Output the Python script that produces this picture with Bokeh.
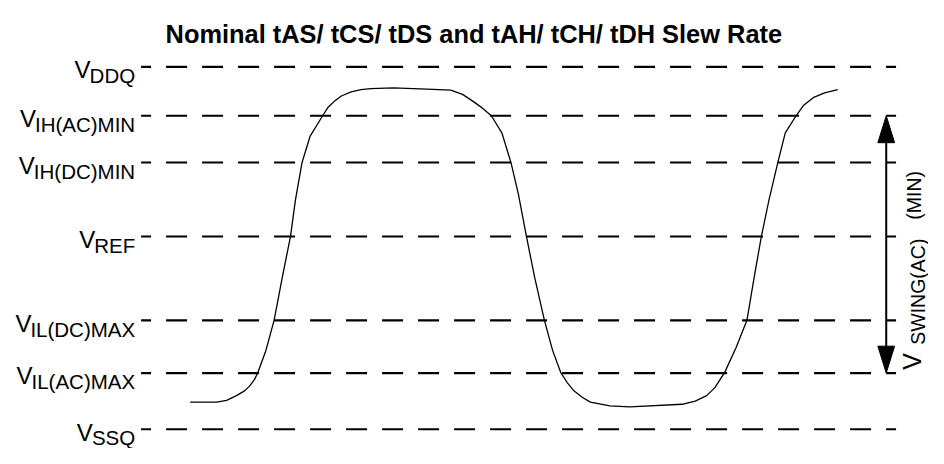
import math
from bokeh.plotting import figure
from bokeh.models import Range1d, ColumnDataSource
from bokeh.core.properties import value
from bokeh.embed import file_html
from bokeh.resources import INLINE

# ---------------- data ----------------
TITLE = "Nominal tAS/ tCS/ tDS and tAH/ tCH/ tDH Slew Rate"

level_main = ["V", "V", "V", "V", "V", "V", "V"]
level_subs = ["DDQ", "IH(AC)MIN", "IH(DC)MIN", "REF", "IL(DC)MAX", "IL(AC)MAX", "SSQ"]
# normalised level voltages (VSSQ = 0, VDDQ = 1)
level_vals = [1.0, 0.865, 0.736, 0.532, 0.3005, 0.155, 0.0]

swing_main = "V"
swing_sub = "SWING(AC)"
swing_tail = "(MIN)"

# waveform: time (arbitrary units) and normalised voltage
wave_t = [193, 220, 230, 240, 248.3, 253.3, 258.3, 261.7, 270, 278.3,
          286.7, 295, 300, 306.7, 315, 327.7, 333.3, 340, 346.7, 356.7,
          366.7, 376.7, 400, 440, 458, 470, 480, 490, 499.3, 510,
          519.3, 526.7, 535, 543.3, 553.3, 561.7, 570, 576.7, 583.3, 591.7,
          600, 620, 640, 693.3, 706.7, 718.3, 726.7, 736.7, 748.3, 759.3,
          766.7, 774, 781.7, 790.7, 798.3, 809.3, 816.7, 826.7, 838.3, 851.7]
wave_v = [0.075, 0.075, 0.0796, 0.093, 0.106, 0.119, 0.137, 0.156, 0.2175, 0.3005,
          0.42, 0.532, 0.632, 0.7355, 0.809, 0.865, 0.8886, 0.906, 0.9196, 0.931,
          0.9371, 0.940, 0.942, 0.938, 0.9355, 0.9239, 0.906, 0.8867, 0.865, 0.818,
          0.7355, 0.65, 0.532, 0.42, 0.3005, 0.217, 0.156, 0.1281, 0.106, 0.0883,
          0.075, 0.0645, 0.062, 0.069, 0.0777, 0.0928, 0.1149, 0.157, 0.2255, 0.3005,
          0.42, 0.532, 0.632, 0.7355, 0.818, 0.865, 0.8931, 0.915, 0.9284, 0.937]

# ---------------- layout helpers ----------------
W, H = 928, 448
REF_W = 944.0
ROW_TOP, ROW_BOTTOM = 4.0, 470.0   # design rows shown at top/bottom of canvas
PX_PER_V = 377.0                   # design pixels per unit voltage
VSSQ_ROW = 450.0                   # design row of VSSQ

def px(n):
    return n / PX_PER_V

def row_to_v(row):
    return (VSSQ_ROW - row) / PX_PER_V

# Arial / Liberation Sans advance widths (per 1000 em)
AW = {"A": 667, "C": 722, "D": 722, "E": 667, "F": 611, "G": 778, "H": 722,
      "I": 278, "L": 556, "M": 833, "N": 722, "Q": 778, "R": 722, "S": 667,
      "W": 944, "X": 667, "(": 333, ")": 333, " ": 278}

def text_w(s, size):
    return sum(AW.get(c, 600) for c in s) * size / 1000.0

FONT = "Liberation Sans"
MAIN_SIZE = 24
SUB_SIZE = 20.5

p = figure(width=W, height=H, output_backend="svg", toolbar_location=None,
           x_range=Range1d(0, REF_W),
           y_range=Range1d(row_to_v(ROW_BOTTOM), row_to_v(ROW_TOP)),
           x_axis_location=None, y_axis_location=None, min_border=0,
           tools="")
p.grid.visible = False
p.outline_line_color = None
p.background_fill_color = "white"
p.border_fill_color = "white"

# dashed reference levels
LX0, LX1 = 143, 911
p.segment(x0=[LX0] * len(level_vals), y0=level_vals,
          x1=[LX1] * len(level_vals), y1=level_vals,
          line_color="black", line_width=2.1, line_dash="21 15",
          line_dash_offset=11)

# level labels
LAB_R = 137
sub_w = [text_w(s, SUB_SIZE) for s in level_subs]
src_sub = ColumnDataSource(dict(x=[LAB_R] * len(level_vals),
                                y=[v - px(9) for v in level_vals],
                                text=level_subs))
p.text(x="x", y="y", text="text", source=src_sub, text_align="right",
       text_baseline="alphabetic", text_font=value(FONT),
       text_font_size=f"{SUB_SIZE}px", text_color="black")
src_main = ColumnDataSource(dict(x=[LAB_R] * len(level_vals),
                                 y=[v - px(3) for v in level_vals],
                                 text=level_main,
                                 xo=[-w + 1 for w in sub_w]))
p.text(x="x", y="y", text="text", x_offset="xo", source=src_main,
       text_align="right", text_baseline="alphabetic",
       text_font=value(FONT), text_font_size=f"{MAIN_SIZE}px",
       text_color="black")

# waveform
p.line(wave_t, wave_v, line_color="black", line_width=1.3, line_join="round")

# swing arrow between VIL(AC)MAX and VIH(AC)MIN
AX = 901
v_hi, v_lo = level_vals[1], level_vals[5]
HEAD_L, HEAD_W = px(28), 8.5
p.segment(x0=[AX], y0=[v_lo + HEAD_L * 0.5], x1=[AX], y1=[v_hi - HEAD_L * 0.5],
          line_color="black", line_width=2)
p.patches(xs=[[AX - HEAD_W, AX, AX + HEAD_W], [AX - HEAD_W, AX, AX + HEAD_W]],
          ys=[[v_hi - HEAD_L, v_hi, v_hi - HEAD_L], [v_lo + HEAD_L, v_lo, v_lo + HEAD_L]],
          fill_color="black", line_color="black", line_width=1)

# rotated swing label
ang = math.pi / 2
p.text(x=[927], y=[v_lo + px(3.5)], text=[swing_main], angle=ang,
       text_align="left", text_baseline="alphabetic", text_font=value(FONT),
       text_font_size="25px", text_color="black")
p.text(x=[933], y=[v_lo + px(29.5)], text=[swing_sub], angle=ang,
       text_align="left", text_baseline="alphabetic", text_font=value(FONT),
       text_font_size="19.5px", text_color="black")
p.text(x=[929], y=[v_lo + px(159.5)], text=[swing_tail], angle=ang,
       text_align="left", text_baseline="alphabetic", text_font=value(FONT),
       text_font_size="19.5px", text_color="black")

# title
p.text(x=[481.5], y=[level_vals[0] + px(73 - 38.5)], text=[TITLE],
       text_align="center", text_baseline="alphabetic",
       text_font=value(FONT), text_font_style="bold",
       text_font_size="25.4px", text_color="black")

open("out.html", "w").write(file_html(p, INLINE))
